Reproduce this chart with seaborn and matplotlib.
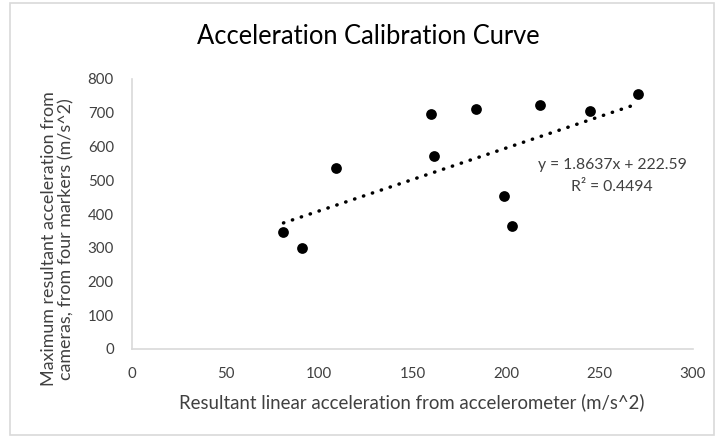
import matplotlib
matplotlib.use("Agg")
import matplotlib.pyplot as plt
import seaborn as sns
import pandas as pd
from matplotlib.patches import Rectangle

# Data
accel_x = [81, 91, 109, 160, 161.5, 184, 218, 199, 203, 245, 270.5]
camera_y = [347, 300, 537, 697, 572, 710, 722, 453, 364, 705, 756]
slope = 1.8637
intercept = 222.59
r_squared = 0.4494
x_ticks = [0, 50, 100, 150, 200, 250, 300]
y_ticks = [0, 100, 200, 300, 400, 500, 600, 700, 800]

title = "Acceleration Calibration Curve"
x_label = "Resultant linear acceleration from accelerometer (m/s^2)"
y_label = "Maximum resultant acceleration from\ncameras, from four markers (m/s^2)"

sns.set_theme(style="white")
plt.rcParams['font.family'] = ['Lato', 'DejaVu Sans']

text_color = "#404040"
grid_color = "#d9d9d9"

fig = plt.figure(figsize=(7.18, 4.38), dpi=100)
fig.patch.set_facecolor("white")
fig.patches.append(Rectangle((10 / 718, 3 / 438), 704 / 718, 432 / 438,
                             transform=fig.transFigure, fill=False,
                             edgecolor=grid_color, linewidth=1.2))

ax = fig.add_axes([132 / 718, 1 - 349 / 438, (693 - 132) / 718, (349 - 79) / 438])

df = pd.DataFrame({"x": accel_x, "y": camera_y})
trend_x = [min(accel_x), max(accel_x)]
trend = pd.DataFrame({"x": trend_x, "y": [slope * v + intercept for v in trend_x]})

sns.lineplot(data=trend, x="x", y="y", ax=ax, color="black",
             linestyle=(0, (0.1, 2.6)), linewidth=2.5,
             dash_capstyle="round", zorder=2)
sns.scatterplot(data=df, x="x", y="y", ax=ax, color="black", s=60,
                edgecolor="black", linewidth=0, zorder=3)

ax.set_xlim(0, 300)
ax.set_ylim(0, 800)
ax.set_xticks(x_ticks)
ax.set_yticks(y_ticks)
ax.tick_params(axis="both", length=0, labelsize=10.8, colors=text_color)
ax.tick_params(axis="x", pad=13)
ax.tick_params(axis="y", pad=13)
for s in ["top", "right"]:
    ax.spines[s].set_visible(False)
for s in ["left", "bottom"]:
    ax.spines[s].set_color(grid_color)
    ax.spines[s].set_linewidth(1.2)
ax.set_xlabel("")
ax.set_ylabel("")
fig.text(412 / 718, 1 - 402 / 438, x_label, ha="center", va="center",
         fontsize=13.4, color=text_color)
fig.text(58 / 718, 1 - 239 / 438, y_label, rotation=90, ha="center", va="center",
         fontsize=12.9, color=text_color, linespacing=1.1)

fig.text(368 / 718, 1 - 37 / 438, title, ha="center", va="center",
         fontsize=18.4, color="black")

ax.text(612 / 718, 1 - 165 / 438, f"y = {slope}x + {intercept}",
        transform=fig.transFigure, ha="center", va="center",
        fontsize=11.3, color=text_color)
ax.text(612 / 718, 1 - 187 / 438, f"R\u00b2 = {r_squared}",
        transform=fig.transFigure, ha="center", va="center",
        fontsize=11.3, color=text_color)

fig.savefig("out.png", dpi=100, facecolor="white")
